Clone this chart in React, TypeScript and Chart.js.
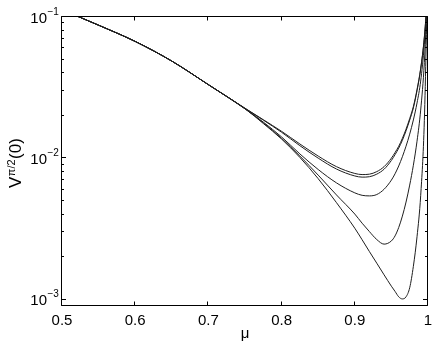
import { useEffect, useRef } from 'react';
import { Chart, registerables } from 'chart.js';

Chart.register(...registerables);

// mu grid (x values)
const mu = [0.50, 0.55, 0.60, 0.65, 0.70, 0.75, 0.775, 0.80, 0.825, 0.85, 0.875, 0.90, 0.91, 0.92, 0.93, 0.94, 0.95, 0.955, 0.96, 0.965, 0.97, 0.975, 0.98, 0.985, 0.99, 0.995, 1.0];

const v1 = [0.1109, 0.0861, 0.0661, 0.0480, 0.0327, 0.02228, 0.01849, 0.0153, 0.01245, 0.01023, 0.00861, 0.00771, 0.00757, 0.00762, 0.00794, 0.00861, 0.00989, 0.01084, 0.0120, 0.01365, 0.01585, 0.01884, 0.0229, 0.0302, 0.0427, 0.0708, 0.158];
const v2 = [0.1109, 0.0861, 0.0661, 0.0480, 0.0327, 0.02225, 0.01837, 0.01507, 0.01211, 0.00989, 0.00828, 0.00740, 0.00726, 0.00731, 0.00762, 0.00826, 0.00953, 0.01047, 0.01164, 0.01324, 0.01542, 0.01837, 0.02239, 0.02965, 0.0420, 0.0700, 0.158];
const v3 = [0.1109, 0.0861, 0.0661, 0.0480, 0.0327, 0.0221, 0.01778, 0.01396, 0.01059, 0.00822, 0.00661, 0.00562, 0.00540, 0.00535, 0.00547, 0.00596, 0.00692, 0.00767, 0.00871, 0.01012, 0.01202, 0.01462, 0.01841, 0.02427, 0.03467, 0.0631, 0.158];
const v4 = [0.1109, 0.0861, 0.0661, 0.0480, 0.0327, 0.0221, 0.01758, 0.01365, 0.01023, 0.00750, 0.00543, 0.00398, 0.00343, 0.00299, 0.00263, 0.00244, 0.00257, 0.00279, 0.00320, 0.00385, 0.00484, 0.00638, 0.00881, 0.01303, 0.02163, 0.0468, 0.178];
const v5 = [0.1109, 0.0861, 0.0661, 0.0480, 0.0327, 0.0221, 0.01738, 0.01349, 0.0100, 0.00708, 0.00479, 0.00316, 0.00262, 0.00216, 0.00179, 0.00148, 0.00123, 0.00113, 0.001035, 0.00100, 0.001035, 0.00120, 0.00170, 0.00275, 0.00537, 0.0182, 0.251];

const series = [v1, v2, v3, v4, v5];

const xTicks = [0.5, 0.6, 0.7, 0.8, 0.9, 1.0];
const xTickLabels = ['0.5', '0.6', '0.7', '0.8', '0.9', '1'];
const yDecades = [-3, -2, -1];
const yDecadeLabels = ['\u22123', '\u22122', '\u22121'];
const xMin = 0.5;
const xMax = 1.0;
const yMin = Math.pow(10, -3.05);
const yMax = 0.1;

const FONT = '"Liberation Sans", Arial, Helvetica, sans-serif';

const axesPlugin = {
  id: 'matlabAxes',
  afterDraw(chart: any) {
    const { ctx, chartArea: a, scales } = chart;
    const xs = scales.x;
    const ys = scales.y;
    const L = a.left - 0.5;
    const R = a.right - 0.5;
    const T = a.top + 0.5;
    const B = a.bottom - 0.5;
    ctx.save();
    ctx.strokeStyle = '#000';
    ctx.lineWidth = 1;
    ctx.beginPath();
    ctx.rect(L, T, R - L, B - T);
    ctx.stroke();

    // x ticks
    ctx.beginPath();
    xTicks.forEach((t) => {
      const px = Math.round(xs.getPixelForValue(t)) - 0.5;
      ctx.moveTo(px, B);
      ctx.lineTo(px, B - 4);
      ctx.moveTo(px, T);
      ctx.lineTo(px, T + 4);
    });
    // y ticks
    yDecades.forEach((d) => {
      const py = Math.round(ys.getPixelForValue(Math.pow(10, d))) + 0.5;
      ctx.moveTo(L, py);
      ctx.lineTo(L + 4.5, py);
      ctx.moveTo(R, py);
      ctx.lineTo(R - 4.5, py);
    });
    for (let d = -4; d <= -2; d++) {
      for (let k = 2; k <= 9; k++) {
        const v = k * Math.pow(10, d);
        if (v < yMin || v > yMax) continue;
        const py = Math.round(ys.getPixelForValue(v)) + 0.5;
        ctx.moveTo(L, py);
        ctx.lineTo(L + 2.5, py);
        ctx.moveTo(R, py);
        ctx.lineTo(R - 2.5, py);
      }
    }
    ctx.stroke();

    ctx.fillStyle = '#000';
    // x labels
    ctx.font = `15px ${FONT}`;
    ctx.textAlign = 'center';
    ctx.textBaseline = 'alphabetic';
    xTicks.forEach((t, i) => {
      const px = xs.getPixelForValue(t);
      ctx.fillText(xTickLabels[i], px, 325);
    });
    // x title
    ctx.fillText('\u03bc', (a.left + a.right) / 2, 338);

    // y labels
    yDecades.forEach((d, i) => {
      const py = ys.getPixelForValue(Math.pow(10, d));
      ctx.font = `15px ${FONT}`;
      ctx.textAlign = 'right';
      ctx.fillText('10', 47, py + 6.5);
      ctx.font = `10px ${FONT}`;
      ctx.textAlign = 'left';
      ctx.fillText(yDecadeLabels[i], 47.5, py - 1.5);
    });

    // y title
    ctx.save();
    ctx.translate(21, 188);
    ctx.rotate(-Math.PI / 2);
    ctx.textAlign = 'left';
    ctx.font = `17px ${FONT}`;
    ctx.fillText('V', 0, 0);
    const w1 = ctx.measureText('V').width;
    ctx.font = `11px ${FONT}`;
    ctx.fillText('\u03c0/2', w1 + 0.5, -6);
    const w2 = ctx.measureText('\u03c0/2').width;
    ctx.font = `17px ${FONT}`;
    ctx.fillText('(0)', w1 + w2 + 1, 0);
    ctx.restore();

    ctx.restore();
  },
};

export default function App() {
  const ref = useRef<HTMLCanvasElement | null>(null);
  useEffect(() => {
    if (!ref.current) return;
    const chart = new Chart(ref.current, {
      type: 'line',
      data: {
        datasets: series.map((vals, si) => ({
          label: `curve ${si + 1}`,
          data: mu.map((m, i) => ({ x: m, y: vals[i] })),
          borderColor: '#1e1e1e',
          borderWidth: 1,
          pointRadius: 0,
          fill: false,
          cubicInterpolationMode: 'monotone' as const,
        })),
      },
      options: {
        animation: false,
        responsive: false,
        devicePixelRatio: 1,
        layout: { padding: { left: 62, top: 16, right: 8, bottom: 40 } },
        plugins: { legend: { display: false }, tooltip: { enabled: false } },
        scales: {
          x: { type: 'linear', min: xMin, max: xMax, display: false },
          y: { type: 'logarithmic', min: yMin, max: yMax, display: false },
        },
      },
      plugins: [axesPlugin],
    });
    return () => chart.destroy();
  }, []);
  return (
    <div style={{ position: 'fixed', left: 0, top: 0, width: 436, height: 346, background: '#fff' }}>
      <canvas ref={ref} width={436} height={346} style={{ display: 'block' }} />
    </div>
  );
}
